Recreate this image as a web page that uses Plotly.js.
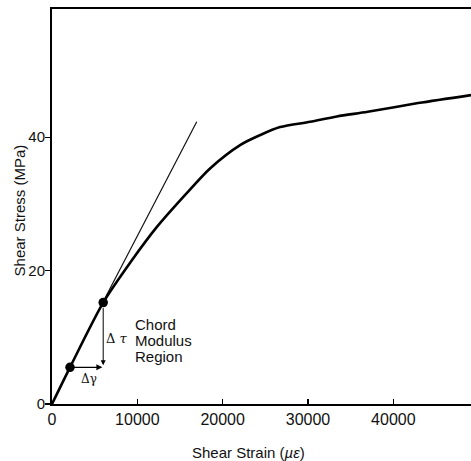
<!DOCTYPE html>
<html>
<head>
<meta charset="utf-8">
<script src="https://cdn.plot.ly/plotly-3.0.1.min.js"></script>
<style>html,body{margin:0;padding:0;background:#fff;}#chart{width:471px;height:461px;}</style>
</head>
<body>
<div id="chart"></div>
<script>
// Shear stress–strain curve (strain in µε, stress in MPa)
const curveStrain = [0, 2110, 6000, 9340, 12270, 15790, 18520, 22040, 24390, 26730, 30250, 33380, 37000, 42900, 49100];
const curveStress = [0, 5.5, 15.2, 21.5, 26.5, 31.6, 35.3, 38.8, 40.3, 41.5, 42.3, 43.1, 43.8, 45.1, 46.3];
// Chord modulus end points
const chordStrain = [2110, 6000];
const chordStress = [5.5, 15.2];
// Extended chord (tangent) line
const tangentStrain = [5950, 16960];
const tangentStress = [15.2, 42.3];
const xTicks = [0, 10000, 20000, 30000, 40000];
const yTicks = [0, 20, 40];
const regionLines = ['Chord', 'Modulus', 'Region'];

const font = 'Liberation Sans, Arial, Helvetica, sans-serif';

const traces = [
  {x: tangentStrain, y: tangentStress, mode: 'lines', line: {color: '#111', width: 1.2}, hoverinfo: 'skip'},
  {x: curveStrain, y: curveStress, mode: 'lines', line: {color: '#000', width: 2.6, shape: 'spline', smoothing: 0.8}},
  {x: chordStrain, y: chordStress, mode: 'markers', marker: {color: '#000', size: 9.5}}
];

const annotations = [
  {xref: 'paper', yref: 'paper', x: 0.47, y: 0, yshift: -48, text: 'Shear Strain (<i>µε</i>)', showarrow: false, font: {size: 15}, yanchor: 'middle'},
  {xref: 'paper', yref: 'paper', x: 0, xshift: -33, y: 0.49, text: 'Shear Stress (MPa)', textangle: -90, showarrow: false, font: {size: 15}, xanchor: 'center'},
  {x: chordStrain[1], y: chordStress[0] + 0.3, ax: chordStrain[1], ay: chordStress[1] - 0.6, xref: 'x', yref: 'y', axref: 'x', ayref: 'y',
   showarrow: true, arrowhead: 2, arrowsize: 1, arrowwidth: 1, arrowcolor: '#000', text: ''},
  {x: chordStrain[1] - 100, y: chordStress[0], ax: chordStrain[0], ay: chordStress[0], xref: 'x', yref: 'y', axref: 'x', ayref: 'y',
   showarrow: true, arrowhead: 2, arrowsize: 1, arrowwidth: 1.2, arrowcolor: '#000', text: ''},
  {x: 4300, y: 3.8, text: 'Δγ', showarrow: false, font: {size: 12, family: 'DejaVu Serif, serif'}},
  {x: 7600, y: 9.8, text: 'Δ <i>τ</i>', showarrow: false, font: {size: 13, family: 'DejaVu Serif, serif'}}
];
const regionY = [11.9, 9.5, 7.1];
regionLines.forEach((t, i) => {
  annotations.push({x: 9500, y: regionY[i], text: t, showarrow: false, xanchor: 'left', yanchor: 'middle', font: {size: 15}});
});

const layout = {
  width: 471, height: 461,
  margin: {l: 52, r: 0, t: 9, b: 57},
  paper_bgcolor: '#fff', plot_bgcolor: '#fff',
  showlegend: false,
  font: {family: font, color: '#111', size: 16},
  xaxis: {
    range: [0, 49100], tickvals: xTicks, ticktext: xTicks.map(String),
    ticks: 'inside', ticklen: 5, tickwidth: 1.2, tickcolor: '#000',
    showline: true, linecolor: '#000', linewidth: 2, mirror: true,
    showgrid: false, zeroline: false, tickfont: {size: 16}
  },
  yaxis: {
    range: [0, 59.2], tickvals: yTicks, ticktext: yTicks.map(String),
    ticks: 'outside', ticklen: 5, tickwidth: 1.2, tickcolor: '#000',
    showline: true, linecolor: '#000', linewidth: 2, ticklabelstandoff: -3,
    showgrid: false, zeroline: false, tickfont: {size: 15}
  },
  annotations: annotations
};

Plotly.newPlot('chart', traces, layout, {displayModeBar: false, staticPlot: true});
</script>
</body>
</html>
